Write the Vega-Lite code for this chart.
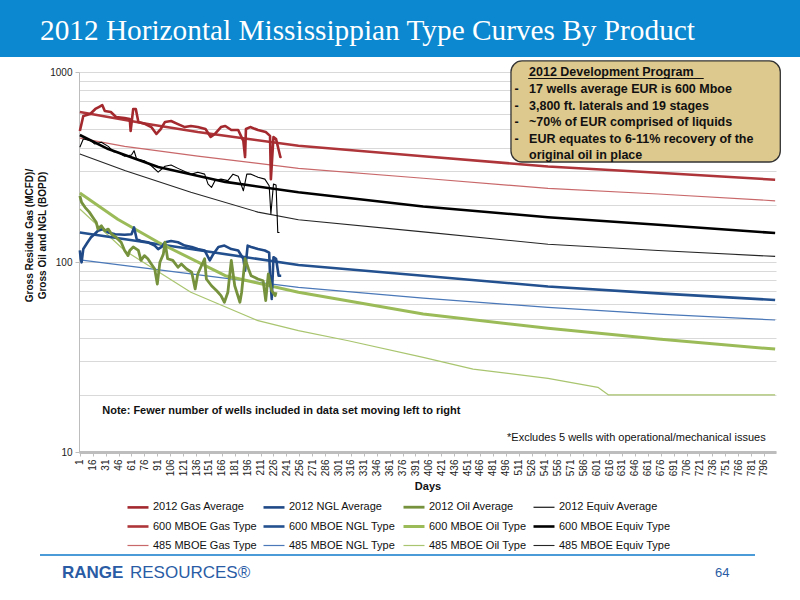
{
  "$schema": "https://vega.github.io/schema/vega-lite/v6.json",
  "description": "2012 Horizontal Mississippian type curves by product, log scale, with averages and type curves.",
  "background": "white",
  "padding": 0,
  "spacing": 3,
  "align": "none",
  "config": {"view": {"stroke": null}, "font": "Liberation Sans", "axis": {"labelOverlap": false}},
  "resolve": {"scale": {"color": "independent", "strokeWidth": "independent"}},
  "vconcat": [
    {
      "width": 800,
      "height": 57,
      "data": {"values": [{}]},
      "mark": {"type": "rect", "color": "#0B88CF"},
      "title": {
        "text": "2012 Horizontal Mississippian Type Curves By Product",
        "orient": "top",
        "anchor": "start",
        "frame": "group",
        "offset": -69.5,
        "dx": 40,
        "baseline": "alphabetic",
        "font": "Liberation Serif",
        "fontSize": 29.3,
        "fontWeight": "normal",
        "color": "white"
      }
    },
    {
      "hconcat": [
        {
          "width": 24,
          "height": 1,
          "data": {"values": [{}]},
          "mark": {"type": "rect", "opacity": 0}
        },
        {
          "width": 697,
          "height": 380,
          "layer": [
            {
              "data": {
                "values": [
                  {"s": "485 MBOE Gas Type", "d": 1, "v": 449},
                  {"s": "485 MBOE Gas Type", "d": 53, "v": 406},
                  {"s": "485 MBOE Gas Type", "d": 138, "v": 361},
                  {"s": "485 MBOE Gas Type", "d": 255, "v": 311},
                  {"s": "485 MBOE Gas Type", "d": 400, "v": 276},
                  {"s": "485 MBOE Gas Type", "d": 545, "v": 244},
                  {"s": "485 MBOE Gas Type", "d": 673, "v": 228},
                  {"s": "485 MBOE Gas Type", "d": 809, "v": 210},
                  {"s": "485 MBOE Equiv Type", "d": 1, "v": 370},
                  {"s": "485 MBOE Equiv Type", "d": 54, "v": 302},
                  {"s": "485 MBOE Equiv Type", "d": 130, "v": 233},
                  {"s": "485 MBOE Equiv Type", "d": 208, "v": 183},
                  {"s": "485 MBOE Equiv Type", "d": 255, "v": 167},
                  {"s": "485 MBOE Equiv Type", "d": 400, "v": 144},
                  {"s": "485 MBOE Equiv Type", "d": 545, "v": 124},
                  {"s": "485 MBOE Equiv Type", "d": 673, "v": 115},
                  {"s": "485 MBOE Equiv Type", "d": 809, "v": 107},
                  {"s": "485 MBOE NGL Type", "d": 1, "v": 102.5},
                  {"s": "485 MBOE NGL Type", "d": 130, "v": 86.5},
                  {"s": "485 MBOE NGL Type", "d": 255, "v": 73.6},
                  {"s": "485 MBOE NGL Type", "d": 400, "v": 64.6},
                  {"s": "485 MBOE NGL Type", "d": 545, "v": 57.7},
                  {"s": "485 MBOE NGL Type", "d": 673, "v": 53.2},
                  {"s": "485 MBOE NGL Type", "d": 809, "v": 49.5},
                  {"s": "485 MBOE Oil Type", "d": 1, "v": 190},
                  {"s": "485 MBOE Oil Type", "d": 53, "v": 115},
                  {"s": "485 MBOE Oil Type", "d": 130, "v": 69.3},
                  {"s": "485 MBOE Oil Type", "d": 208, "v": 49.1},
                  {"s": "485 MBOE Oil Type", "d": 255, "v": 43.5},
                  {"s": "485 MBOE Oil Type", "d": 313, "v": 38.5},
                  {"s": "485 MBOE Oil Type", "d": 400, "v": 31.5},
                  {"s": "485 MBOE Oil Type", "d": 458, "v": 27.3},
                  {"s": "485 MBOE Oil Type", "d": 545, "v": 24.4},
                  {"s": "485 MBOE Oil Type", "d": 603, "v": 21.9},
                  {"s": "485 MBOE Oil Type", "d": 615, "v": 20},
                  {"s": "485 MBOE Oil Type", "d": 809, "v": 20},
                  {"s": "600 MBOE Gas Type", "d": 1, "v": 616},
                  {"s": "600 MBOE Gas Type", "d": 80, "v": 532},
                  {"s": "600 MBOE Gas Type", "d": 138, "v": 483},
                  {"s": "600 MBOE Gas Type", "d": 197, "v": 444},
                  {"s": "600 MBOE Gas Type", "d": 255, "v": 409},
                  {"s": "600 MBOE Gas Type", "d": 400, "v": 360},
                  {"s": "600 MBOE Gas Type", "d": 545, "v": 318},
                  {"s": "600 MBOE Gas Type", "d": 673, "v": 295},
                  {"s": "600 MBOE Gas Type", "d": 809, "v": 271},
                  {"s": "600 MBOE Equiv Type", "d": 1, "v": 466},
                  {"s": "600 MBOE Equiv Type", "d": 34, "v": 393},
                  {"s": "600 MBOE Equiv Type", "d": 92, "v": 316},
                  {"s": "600 MBOE Equiv Type", "d": 170, "v": 264},
                  {"s": "600 MBOE Equiv Type", "d": 255, "v": 233},
                  {"s": "600 MBOE Equiv Type", "d": 400, "v": 196},
                  {"s": "600 MBOE Equiv Type", "d": 545, "v": 172},
                  {"s": "600 MBOE Equiv Type", "d": 673, "v": 157},
                  {"s": "600 MBOE Equiv Type", "d": 809, "v": 142},
                  {"s": "600 MBOE NGL Type", "d": 1, "v": 143},
                  {"s": "600 MBOE NGL Type", "d": 130, "v": 117},
                  {"s": "600 MBOE NGL Type", "d": 255, "v": 96.4},
                  {"s": "600 MBOE NGL Type", "d": 400, "v": 84.7},
                  {"s": "600 MBOE NGL Type", "d": 545, "v": 74.3},
                  {"s": "600 MBOE NGL Type", "d": 673, "v": 68.4},
                  {"s": "600 MBOE NGL Type", "d": 809, "v": 63.1},
                  {"s": "600 MBOE Oil Type", "d": 1, "v": 231},
                  {"s": "600 MBOE Oil Type", "d": 45, "v": 168},
                  {"s": "600 MBOE Oil Type", "d": 92, "v": 127},
                  {"s": "600 MBOE Oil Type", "d": 170, "v": 84.7},
                  {"s": "600 MBOE Oil Type", "d": 255, "v": 69.3},
                  {"s": "600 MBOE Oil Type", "d": 400, "v": 53.2},
                  {"s": "600 MBOE Oil Type", "d": 545, "v": 44.8},
                  {"s": "600 MBOE Oil Type", "d": 673, "v": 39.3},
                  {"s": "600 MBOE Oil Type", "d": 809, "v": 34.8},
                  {"s": "2012 Gas Average", "d": 1, "v": 489},
                  {"s": "2012 Gas Average", "d": 5, "v": 587},
                  {"s": "2012 Gas Average", "d": 13, "v": 601},
                  {"s": "2012 Gas Average", "d": 19, "v": 639},
                  {"s": "2012 Gas Average", "d": 23, "v": 654},
                  {"s": "2012 Gas Average", "d": 27, "v": 670},
                  {"s": "2012 Gas Average", "d": 30, "v": 623},
                  {"s": "2012 Gas Average", "d": 37, "v": 616},
                  {"s": "2012 Gas Average", "d": 43, "v": 580},
                  {"s": "2012 Gas Average", "d": 53, "v": 573},
                  {"s": "2012 Gas Average", "d": 59, "v": 566},
                  {"s": "2012 Gas Average", "d": 60, "v": 489},
                  {"s": "2012 Gas Average", "d": 63, "v": 639},
                  {"s": "2012 Gas Average", "d": 66, "v": 639},
                  {"s": "2012 Gas Average", "d": 69, "v": 546},
                  {"s": "2012 Gas Average", "d": 77, "v": 532},
                  {"s": "2012 Gas Average", "d": 84, "v": 513},
                  {"s": "2012 Gas Average", "d": 90, "v": 472},
                  {"s": "2012 Gas Average", "d": 95, "v": 501},
                  {"s": "2012 Gas Average", "d": 100, "v": 546},
                  {"s": "2012 Gas Average", "d": 107, "v": 552},
                  {"s": "2012 Gas Average", "d": 115, "v": 532},
                  {"s": "2012 Gas Average", "d": 123, "v": 513},
                  {"s": "2012 Gas Average", "d": 130, "v": 520},
                  {"s": "2012 Gas Average", "d": 138, "v": 513},
                  {"s": "2012 Gas Average", "d": 147, "v": 501},
                  {"s": "2012 Gas Average", "d": 153, "v": 455},
                  {"s": "2012 Gas Average", "d": 158, "v": 472},
                  {"s": "2012 Gas Average", "d": 165, "v": 513},
                  {"s": "2012 Gas Average", "d": 170, "v": 520},
                  {"s": "2012 Gas Average", "d": 177, "v": 495},
                  {"s": "2012 Gas Average", "d": 185, "v": 495},
                  {"s": "2012 Gas Average", "d": 191, "v": 433},
                  {"s": "2012 Gas Average", "d": 193, "v": 357},
                  {"s": "2012 Gas Average", "d": 194, "v": 501},
                  {"s": "2012 Gas Average", "d": 199, "v": 513},
                  {"s": "2012 Gas Average", "d": 208, "v": 495},
                  {"s": "2012 Gas Average", "d": 217, "v": 483},
                  {"s": "2012 Gas Average", "d": 222, "v": 461},
                  {"s": "2012 Gas Average", "d": 223, "v": 273},
                  {"s": "2012 Gas Average", "d": 226, "v": 455},
                  {"s": "2012 Gas Average", "d": 229, "v": 444},
                  {"s": "2012 Gas Average", "d": 234, "v": 357},
                  {"s": "2012 Gas Average", "d": 235, "v": 361},
                  {"s": "2012 Equiv Average", "d": 1, "v": 402},
                  {"s": "2012 Equiv Average", "d": 5, "v": 444},
                  {"s": "2012 Equiv Average", "d": 14, "v": 435},
                  {"s": "2012 Equiv Average", "d": 18, "v": 418},
                  {"s": "2012 Equiv Average", "d": 26, "v": 427},
                  {"s": "2012 Equiv Average", "d": 34, "v": 406},
                  {"s": "2012 Equiv Average", "d": 40, "v": 381},
                  {"s": "2012 Equiv Average", "d": 45, "v": 378},
                  {"s": "2012 Equiv Average", "d": 53, "v": 360},
                  {"s": "2012 Equiv Average", "d": 61, "v": 366},
                  {"s": "2012 Equiv Average", "d": 64, "v": 385},
                  {"s": "2012 Equiv Average", "d": 67, "v": 348},
                  {"s": "2012 Equiv Average", "d": 76, "v": 341},
                  {"s": "2012 Equiv Average", "d": 84, "v": 321},
                  {"s": "2012 Equiv Average", "d": 92, "v": 297},
                  {"s": "2012 Equiv Average", "d": 100, "v": 319},
                  {"s": "2012 Equiv Average", "d": 107, "v": 324},
                  {"s": "2012 Equiv Average", "d": 115, "v": 311},
                  {"s": "2012 Equiv Average", "d": 123, "v": 299},
                  {"s": "2012 Equiv Average", "d": 131, "v": 290},
                  {"s": "2012 Equiv Average", "d": 138, "v": 297},
                  {"s": "2012 Equiv Average", "d": 146, "v": 290},
                  {"s": "2012 Equiv Average", "d": 150, "v": 257},
                  {"s": "2012 Equiv Average", "d": 154, "v": 247},
                  {"s": "2012 Equiv Average", "d": 158, "v": 268},
                  {"s": "2012 Equiv Average", "d": 165, "v": 273},
                  {"s": "2012 Equiv Average", "d": 173, "v": 268},
                  {"s": "2012 Equiv Average", "d": 179, "v": 290},
                  {"s": "2012 Equiv Average", "d": 185, "v": 283},
                  {"s": "2012 Equiv Average", "d": 191, "v": 237},
                  {"s": "2012 Equiv Average", "d": 195, "v": 290},
                  {"s": "2012 Equiv Average", "d": 200, "v": 290},
                  {"s": "2012 Equiv Average", "d": 208, "v": 279},
                  {"s": "2012 Equiv Average", "d": 216, "v": 273},
                  {"s": "2012 Equiv Average", "d": 221, "v": 252},
                  {"s": "2012 Equiv Average", "d": 223, "v": 179},
                  {"s": "2012 Equiv Average", "d": 226, "v": 257},
                  {"s": "2012 Equiv Average", "d": 229, "v": 254},
                  {"s": "2012 Equiv Average", "d": 231, "v": 143},
                  {"s": "2012 Equiv Average", "d": 233, "v": 143},
                  {"s": "2012 NGL Average", "d": 1, "v": 115},
                  {"s": "2012 NGL Average", "d": 2, "v": 104},
                  {"s": "2012 NGL Average", "d": 3, "v": 99.6},
                  {"s": "2012 NGL Average", "d": 5, "v": 117},
                  {"s": "2012 NGL Average", "d": 10, "v": 127},
                  {"s": "2012 NGL Average", "d": 14, "v": 135},
                  {"s": "2012 NGL Average", "d": 18, "v": 140},
                  {"s": "2012 NGL Average", "d": 22, "v": 146},
                  {"s": "2012 NGL Average", "d": 28, "v": 149},
                  {"s": "2012 NGL Average", "d": 34, "v": 143},
                  {"s": "2012 NGL Average", "d": 42, "v": 140},
                  {"s": "2012 NGL Average", "d": 53, "v": 139},
                  {"s": "2012 NGL Average", "d": 61, "v": 140},
                  {"s": "2012 NGL Average", "d": 64, "v": 152},
                  {"s": "2012 NGL Average", "d": 67, "v": 132},
                  {"s": "2012 NGL Average", "d": 72, "v": 129},
                  {"s": "2012 NGL Average", "d": 80, "v": 127},
                  {"s": "2012 NGL Average", "d": 88, "v": 122},
                  {"s": "2012 NGL Average", "d": 92, "v": 117},
                  {"s": "2012 NGL Average", "d": 96, "v": 120},
                  {"s": "2012 NGL Average", "d": 100, "v": 127},
                  {"s": "2012 NGL Average", "d": 107, "v": 129},
                  {"s": "2012 NGL Average", "d": 115, "v": 127},
                  {"s": "2012 NGL Average", "d": 123, "v": 122},
                  {"s": "2012 NGL Average", "d": 131, "v": 120},
                  {"s": "2012 NGL Average", "d": 138, "v": 117},
                  {"s": "2012 NGL Average", "d": 146, "v": 115},
                  {"s": "2012 NGL Average", "d": 152, "v": 102},
                  {"s": "2012 NGL Average", "d": 156, "v": 110},
                  {"s": "2012 NGL Average", "d": 162, "v": 120},
                  {"s": "2012 NGL Average", "d": 169, "v": 122},
                  {"s": "2012 NGL Average", "d": 177, "v": 117},
                  {"s": "2012 NGL Average", "d": 185, "v": 115},
                  {"s": "2012 NGL Average", "d": 191, "v": 104},
                  {"s": "2012 NGL Average", "d": 193, "v": 90},
                  {"s": "2012 NGL Average", "d": 196, "v": 122},
                  {"s": "2012 NGL Average", "d": 200, "v": 120},
                  {"s": "2012 NGL Average", "d": 208, "v": 117},
                  {"s": "2012 NGL Average", "d": 216, "v": 115},
                  {"s": "2012 NGL Average", "d": 221, "v": 112},
                  {"s": "2012 NGL Average", "d": 222, "v": 84.7},
                  {"s": "2012 NGL Average", "d": 224, "v": 63.9},
                  {"s": "2012 NGL Average", "d": 226, "v": 106},
                  {"s": "2012 NGL Average", "d": 229, "v": 104},
                  {"s": "2012 NGL Average", "d": 232, "v": 84.7},
                  {"s": "2012 NGL Average", "d": 235, "v": 84.7},
                  {"s": "2012 Oil Average", "d": 1, "v": 223},
                  {"s": "2012 Oil Average", "d": 3, "v": 206},
                  {"s": "2012 Oil Average", "d": 7, "v": 194},
                  {"s": "2012 Oil Average", "d": 12, "v": 183},
                  {"s": "2012 Oil Average", "d": 16, "v": 172},
                  {"s": "2012 Oil Average", "d": 20, "v": 162},
                  {"s": "2012 Oil Average", "d": 22, "v": 149},
                  {"s": "2012 Oil Average", "d": 26, "v": 155},
                  {"s": "2012 Oil Average", "d": 30, "v": 146},
                  {"s": "2012 Oil Average", "d": 34, "v": 149},
                  {"s": "2012 Oil Average", "d": 38, "v": 140},
                  {"s": "2012 Oil Average", "d": 43, "v": 135},
                  {"s": "2012 Oil Average", "d": 49, "v": 127},
                  {"s": "2012 Oil Average", "d": 53, "v": 115},
                  {"s": "2012 Oil Average", "d": 57, "v": 108},
                  {"s": "2012 Oil Average", "d": 59, "v": 115},
                  {"s": "2012 Oil Average", "d": 63, "v": 120},
                  {"s": "2012 Oil Average", "d": 69, "v": 115},
                  {"s": "2012 Oil Average", "d": 72, "v": 102},
                  {"s": "2012 Oil Average", "d": 76, "v": 108},
                  {"s": "2012 Oil Average", "d": 80, "v": 104},
                  {"s": "2012 Oil Average", "d": 84, "v": 97.6},
                  {"s": "2012 Oil Average", "d": 88, "v": 91.8},
                  {"s": "2012 Oil Average", "d": 91, "v": 76.6},
                  {"s": "2012 Oil Average", "d": 94, "v": 99.6},
                  {"s": "2012 Oil Average", "d": 98, "v": 110},
                  {"s": "2012 Oil Average", "d": 100, "v": 127},
                  {"s": "2012 Oil Average", "d": 103, "v": 104},
                  {"s": "2012 Oil Average", "d": 109, "v": 102},
                  {"s": "2012 Oil Average", "d": 115, "v": 93.8},
                  {"s": "2012 Oil Average", "d": 119, "v": 97.6},
                  {"s": "2012 Oil Average", "d": 125, "v": 91.8},
                  {"s": "2012 Oil Average", "d": 131, "v": 88.3},
                  {"s": "2012 Oil Average", "d": 135, "v": 72.1},
                  {"s": "2012 Oil Average", "d": 138, "v": 86.5},
                  {"s": "2012 Oil Average", "d": 146, "v": 104},
                  {"s": "2012 Oil Average", "d": 148, "v": 81.4},
                  {"s": "2012 Oil Average", "d": 154, "v": 75},
                  {"s": "2012 Oil Average", "d": 160, "v": 70.6},
                  {"s": "2012 Oil Average", "d": 165, "v": 66.5},
                  {"s": "2012 Oil Average", "d": 169, "v": 61.4},
                  {"s": "2012 Oil Average", "d": 173, "v": 69.3},
                  {"s": "2012 Oil Average", "d": 177, "v": 102},
                  {"s": "2012 Oil Average", "d": 181, "v": 75},
                  {"s": "2012 Oil Average", "d": 187, "v": 61.4},
                  {"s": "2012 Oil Average", "d": 189, "v": 69.3},
                  {"s": "2012 Oil Average", "d": 193, "v": 104},
                  {"s": "2012 Oil Average", "d": 197, "v": 91.8},
                  {"s": "2012 Oil Average", "d": 200, "v": 84.7},
                  {"s": "2012 Oil Average", "d": 208, "v": 81.4},
                  {"s": "2012 Oil Average", "d": 214, "v": 79.7},
                  {"s": "2012 Oil Average", "d": 217, "v": 62.6},
                  {"s": "2012 Oil Average", "d": 220, "v": 86.5},
                  {"s": "2012 Oil Average", "d": 224, "v": 70.6},
                  {"s": "2012 Oil Average", "d": 228, "v": 66.5},
                  {"s": "2012 Oil Average", "d": 229, "v": 69.3}
                ]
              },
              "mark": {"type": "line", "strokeJoin": "round"},
              "encoding": {
                "x": {
                  "field": "d",
                  "type": "quantitative",
                  "scale": {"domain": [0, 810], "nice": false, "zero": false},
                  "axis": {
                    "values": [1, 16, 31, 46, 61, 76, 91, 106, 121, 136, 151, 166, 181, 196, 211, 226, 241, 256, 271, 286, 301, 316, 331, 346, 361, 376, 391, 406, 421, 436, 451, 466, 481, 496, 511, 526, 541, 556, 571, 586, 601, 616, 631, 646, 661, 676, 691, 706, 721, 736, 751, 766, 781, 796],
                    "tickCount": 100,
                    "labelAngle": -90,
                    "labelFontSize": 10,
                    "labelColor": "#222222",
                    "labelOverlap": false,
                    "labelBound": false,
                    "labelFlush": false,
                    "labelPadding": 3,
                    "grid": false,
                    "domainColor": "#BDBDBD",
                    "domainWidth": 3,
                    "tickColor": "#BDBDBD",
                    "tickSize": 4,
                    "title": "Days",
                    "titleFontSize": 11,
                    "titleFontWeight": "bold",
                    "titleColor": "#111111",
                    "titlePadding": 5
                  }
                },
                "y": {
                  "field": "v",
                  "type": "quantitative",
                  "scale": {"type": "log", "domain": [10, 1000], "nice": false},
                  "axis": {
                    "values": [10, 20, 30, 40, 50, 60, 70, 80, 90, 100, 200, 300, 400, 500, 600, 700, 800, 900, 1000],
                    "tickCount": 40,
                    "format": "d",
                    "labelExpr": "(datum.value == 10 || datum.value == 100 || datum.value == 1000) ? datum.label : ''",
                    "grid": true,
                    "gridColor": "#D9D9D9",
                    "domainColor": "#BDBDBD",
                    "tickColor": "#BDBDBD",
                    "tickSize": 4,
                    "tickOpacity": {"condition": {"test": "datum.value == 10 || datum.value == 100 || datum.value == 1000", "value": 1}, "value": 0},
                    "labelFontSize": 10,
                    "labelColor": "#222222",
                    "labelPadding": 3,
                    "title": ["Gross Residue Gas (MCFD)/", "Gross Oil and NGL (BOPD)"],
                    "titleFontSize": 10,
                    "titleFontWeight": "bold",
                    "titleColor": "#111111",
                    "titleX": -45,
                    "titleY": 163,
                    "titleAngle": -90,
                    "titleAlign": "center",
                    "titleBaseline": "bottom",
                    "titleLineHeight": 13
                  }
                },
                "color": {
                  "field": "s",
                  "type": "nominal",
                  "scale": {
                    "domain": ["2012 Gas Average", "2012 NGL Average", "2012 Oil Average", "2012 Equiv Average", "600 MBOE Gas Type", "600 MBOE NGL Type", "600 MBOE Oil Type", "600 MBOE Equiv Type", "485 MBOE Gas Type", "485 MBOE NGL Type", "485 MBOE Oil Type", "485 MBOE Equiv Type"],
                    "range": ["#A3292E", "#1F4A87", "#76923C", "#000000", "#AE3539", "#23508F", "#9BBB59", "#000000", "#C9686A", "#4A78B8", "#A9C56F", "#262626"]
                  },
                  "legend": {
                    "orient": "none",
                    "legendX": 47,
                    "legendY": 423,
                    "direction": "horizontal",
                    "columns": 4,
                    "title": null,
                    "symbolType": "stroke",
                    "symbolSize": 441,
                    "labelFont": "Liberation Sans",
                    "labelFontSize": 11,
                    "labelColor": "#111111",
                    "labelOffset": 3,
                    "labelLimit": 300,
                    "columnPadding": 1,
                    "rowPadding": 1.5
                  }
                },
                "strokeWidth": {
                  "field": "s",
                  "type": "nominal",
                  "scale": {
                    "type": "ordinal",
                    "domain": ["2012 Gas Average", "2012 NGL Average", "2012 Oil Average", "2012 Equiv Average", "600 MBOE Gas Type", "600 MBOE NGL Type", "600 MBOE Oil Type", "600 MBOE Equiv Type", "485 MBOE Gas Type", "485 MBOE NGL Type", "485 MBOE Oil Type", "485 MBOE Equiv Type"],
                    "range": [2.6, 2.6, 2.8, 1.1, 2.6, 2.6, 3, 2.6, 1.2, 1.2, 1.2, 1.1]
                  }
                }
              }
            },
            {
              "data": {"values": [{}]},
              "mark": {"type": "rect", "fill": "#DDC88D", "stroke": "#333333", "strokeWidth": 1.3, "cornerRadius": 11},
              "encoding": {
                "x": {"datum": 502, "type": "quantitative"},
                "x2": {"datum": 815},
                "y": {"datum": 1143, "type": "quantitative"},
                "y2": {"datum": 336}
              }
            },
            {
              "data": {"values": [{}]},
              "mark": {"type": "rule", "color": "#111111", "strokeWidth": 1.2},
              "encoding": {
                "x": {"datum": 522, "type": "quantitative"},
                "x2": {"datum": 726},
                "y": {"datum": 924, "type": "quantitative"}
              }
            },
            {
              "data": {"values": [{}]},
              "mark": {
                "type": "text",
                "text": ["2012 Development Program", "17 wells average EUR is 600 Mboe", "3,800 ft. laterals and 19 stages", "~70% of EUR comprised of liquids", "EUR equates to 6-11% recovery of the", "original oil in place"],
                "align": "left",
                "baseline": "alphabetic",
                "lineHeight": 16.6,
                "font": "Liberation Sans",
                "fontSize": 12.5,
                "fontWeight": "bold",
                "color": "#111111"
              },
              "encoding": {
                "x": {"datum": 523, "type": "quantitative"},
                "y": {"datum": 947, "type": "quantitative"}
              }
            },
            {
              "data": {"values": [{}]},
              "mark": {
                "type": "text",
                "text": ["-", "-", "-", "-"],
                "align": "left",
                "baseline": "alphabetic",
                "lineHeight": 16.6,
                "font": "Liberation Sans",
                "fontSize": 12.5,
                "fontWeight": "bold",
                "color": "#111111"
              },
              "encoding": {
                "x": {"datum": 506, "type": "quantitative"},
                "y": {"datum": 774, "type": "quantitative"}
              }
            },
            {
              "data": {"values": [{}]},
              "mark": {
                "type": "text",
                "text": "Note: Fewer number of wells included in data set moving left to right",
                "align": "left",
                "baseline": "alphabetic",
                "font": "Liberation Sans",
                "fontSize": 11,
                "fontWeight": "bold",
                "color": "#111111"
              },
              "encoding": {
                "x": {"datum": 27, "type": "quantitative"},
                "y": {"datum": 15.85, "type": "quantitative"}
              }
            },
            {
              "data": {"values": [{}]},
              "mark": {
                "type": "text",
                "text": "*Excludes 5 wells with operational/mechanical issues",
                "align": "right",
                "baseline": "alphabetic",
                "font": "Liberation Sans",
                "fontSize": 11,
                "color": "#111111"
              },
              "encoding": {
                "x": {"datum": 798, "type": "quantitative"},
                "y": {"datum": 11.43, "type": "quantitative"}
              }
            }
          ]
        }
      ],
      "spacing": 0,
      "align": "none",
      "resolve": {"scale": {"color": "independent", "strokeWidth": "independent"}}
    },
    {
      "hconcat": [
        {
          "width": 40,
          "height": 2,
          "data": {"values": [{}]},
          "mark": {"type": "rect", "opacity": 0}
        },
        {
          "width": 90,
          "height": 2,
          "data": {"values": [{}]},
          "mark": {"type": "rect", "color": "#4A9BD8"},
          "title": {"text": "RANGE", "orient": "bottom", "anchor": "start", "frame": "group", "offset": 9, "dx": 22, "font": "Liberation Sans", "fontSize": 17, "fontWeight": "bold", "color": "#2A5CA5"}
        },
        {
          "width": 577,
          "height": 2,
          "data": {"values": [{}]},
          "mark": {"type": "rect", "color": "#4A9BD8"},
          "title": {"text": "RESOURCES®", "orient": "bottom", "anchor": "start", "frame": "group", "offset": 9, "dx": 0, "font": "Liberation Sans", "fontSize": 17, "fontWeight": "normal", "color": "#2A5CA5"}
        },
        {
          "width": 48,
          "height": 2,
          "data": {"values": [{}]},
          "mark": {"type": "rect", "color": "#4A9BD8"},
          "title": {"text": "64", "orient": "bottom", "anchor": "start", "frame": "group", "offset": 11, "dx": 8, "font": "Liberation Sans", "fontSize": 13, "fontWeight": "normal", "color": "#2A5CA5"}
        }
      ],
      "spacing": 0,
      "align": "none"
    }
  ]
}
